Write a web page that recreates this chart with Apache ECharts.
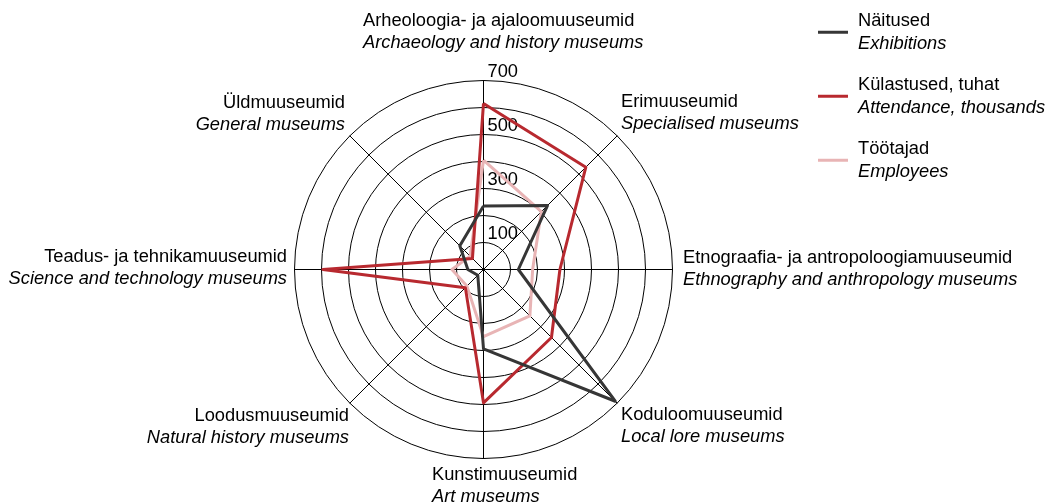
<!DOCTYPE html>
<html>
<head>
<meta charset="utf-8">
<script src="https://cdn.jsdelivr.net/npm/echarts@6/dist/echarts.min.js"></script>
<style>
  html, body { margin: 0; padding: 0; background: #ffffff; }
  #chart { width: 1052px; height: 504px; }
</style>
</head>
<body>
<div id="chart"></div>
<script>
// Museum types, listed clockwise starting from the top spoke
const typesEt = [
  'Arheoloogia- ja ajaloomuuseumid',
  'Erimuuseumid',
  'Etnograafia- ja antropoloogiamuuseumid',
  'Koduloomuuseumid',
  'Kunstimuuseumid',
  'Loodusmuuseumid',
  'Teadus- ja tehnikamuuseumid',
  'Üldmuuseumid'
];
const typesEn = [
  'Archaeology and history museums',
  'Specialised museums',
  'Ethnography and anthropology museums',
  'Local lore museums',
  'Art museums',
  'Natural history museums',
  'Science and technology museums',
  'General museums'
];

// Values per museum type (same clockwise order)
const exhibitions = [235, 335, 129, 690, 294, 30, 58, 124];
const attendance  = [615, 536, 283, 356, 494, 95, 595, 58];
const employees   = [405, 303, 182, 243, 249, 87, 117, 70];

// Series names (Estonian / English)
const seriesEt = ['Näitused', 'Külastused, tuhat', 'Töötajad'];
const seriesEn = ['Exhibitions', 'Attendance, thousands', 'Employees'];

// Scale
const axisMax = 700;
const axisStep = 100;
const tickLabels = [100, 300, 500, 700];

// ---- layout and style ----
const FONT = '"Liberation Sans", Arial, Helvetica, sans-serif';
const FS = 18.3;
const LH = 22.5;
const colors = ['#363636', '#b8292f', '#e8b4b5'];

// Spoke label anchors: [x, y (middle of the two lines), alignment]
const labelAnchors = [
  [363, 32, 'left'],
  [621, 113, 'left'],
  [683, 269, 'left'],
  [621, 426, 'left'],
  [432, 486, 'left'],
  [349, 427, 'right'],
  [287, 268, 'right'],
  [345, 114, 'right']
];

// ECharts lays radar spokes out counter-clockwise; map the clockwise lists onto it
const spokeOrder = [0, 7, 6, 5, 4, 3, 2, 1];
const inSpokeOrder = arr => spokeOrder.map(i => arr[i]);

const indicators = inSpokeOrder(typesEt).map((name, k) => {
  const ind = { name: name, min: 0, max: axisMax };
  if (k === 0) {
    ind.axisLabel = { show: true };
  }
  return ind;
});

const valueSets = [exhibitions, attendance, employees];
// Draw order: employees beneath, exhibitions on top
const drawOrder = [2, 1, 0];
const series = drawOrder.map(s => ({
  type: 'radar',
  name: seriesEt[s],
  symbol: 'none',
  z: 2 + (2 - s),
  lineStyle: { color: colors[s], width: 3, type: 'solid' },
  itemStyle: { color: colors[s] },
  areaStyle: null,
  data: [{ name: seriesEt[s], value: inSpokeOrder(valueSets[s]) }]
}));

const rich = {
  a: { fontFamily: FONT, fontSize: FS, lineHeight: LH, color: '#000', fill: '#000' },
  b: { fontFamily: FONT, fontSize: FS, lineHeight: LH, fontStyle: 'italic', color: '#000', fill: '#000' }
};

const graphics = typesEt.map((et, i) => ({
  type: 'text',
  x: labelAnchors[i][0],
  y: labelAnchors[i][1],
  silent: true,
  style: {
    text: '{a|' + et + '}\n{b|' + typesEn[i] + '}',
    rich: rich,
    align: labelAnchors[i][2],
    verticalAlign: 'middle',
    fill: '#000'
  }
}));

const chart = echarts.init(document.getElementById('chart'), null, { renderer: 'canvas' });
chart.setOption({
  backgroundColor: '#ffffff',
  animation: false,
  legend: {
    orient: 'vertical',
    left: 818,
    top: 12,
    padding: 0,
    itemWidth: 30,
    itemHeight: 3,
    itemGap: 23.5,
    icon: 'rect',
    selectedMode: false,
    data: seriesEt.map((n, s) => ({ name: n, itemStyle: { color: colors[s] } })),
    formatter: name => {
      const s = seriesEt.indexOf(name);
      return '{a|' + seriesEt[s] + '}\n{b|' + seriesEn[s] + '}';
    },
    textStyle: {
      padding: [0, 0, 0, 5],
      rich: {
        a: { fontFamily: FONT, fontSize: FS, lineHeight: LH, color: '#000' },
        b: { fontFamily: FONT, fontSize: FS, lineHeight: LH, fontStyle: 'italic', color: '#000' }
      }
    }
  },
  radar: {
    center: [483.5, 269.5],
    radius: 189,
    shape: 'circle',
    startAngle: 90,
    splitNumber: axisMax / axisStep,
    indicator: indicators,
    axisName: { show: false },
    axisLine: { show: true, lineStyle: { color: '#000', width: 1 } },
    splitLine: { show: true, lineStyle: { color: '#000', width: 1 } },
    splitArea: { show: false },
    axisTick: { show: false },
    axisLabel: {
      show: false,
      color: '#000',
      fontFamily: FONT,
      fontSize: FS,
      margin: 4,
      align: 'left',
      padding: [0, 0, 0, 8],
      verticalAlign: 'bottom',
      formatter: v => (tickLabels.indexOf(Number(v)) >= 0 ? String(v) : '')
    }
  },
  graphic: graphics,
  series: series
});
</script>
</body>
</html>
